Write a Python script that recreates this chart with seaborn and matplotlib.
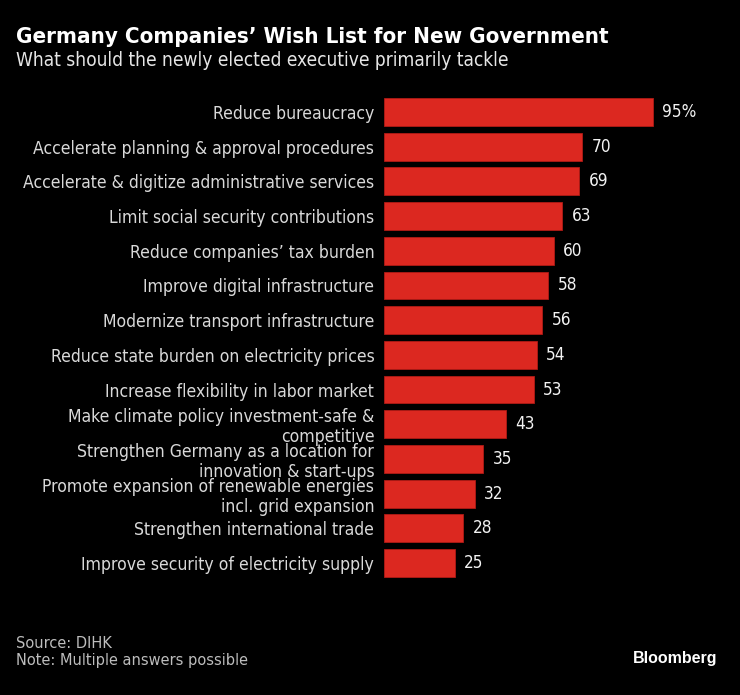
import matplotlib
matplotlib.use("Agg")
import matplotlib.pyplot as plt
import seaborn as sns
import pandas as pd

categories = [
    "Reduce bureaucracy",
    "Accelerate planning & approval procedures",
    "Accelerate & digitize administrative services",
    "Limit social security contributions",
    "Reduce companies\u2019 tax burden",
    "Improve digital infrastructure",
    "Modernize transport infrastructure",
    "Reduce state burden on electricity prices",
    "Increase flexibility in labor market",
    "Make climate policy investment-safe &\ncompetitive",
    "Strengthen Germany as a location for\ninnovation & start-ups",
    "Promote expansion of renewable energies\nincl. grid expansion",
    "Strengthen international trade",
    "Improve security of electricity supply",
]
values = [95, 70, 69, 63, 60, 58, 56, 54, 53, 43, 35, 32, 28, 25]
value_labels = ["95%", "70", "69", "63", "60", "58", "56", "54", "53", "43", "35", "32", "28", "25"]

df = pd.DataFrame({"category": categories, "value": values})

sns.set_theme(style="dark")
plt.rcParams["font.family"] = ["DejaVu Sans"]
plt.rcParams["font.stretch"] = "condensed"

BG = "#000000"
RED = "#dc2820"
TXT = "#d9d9d9"

fig = plt.figure(figsize=(7.4, 6.95), dpi=100, facecolor=BG)
ax = fig.add_axes([384 / 740, 1 - 580.4 / 695, 283 / 740, (580.4 - 94.6) / 695])
ax.set_facecolor(BG)

sns.barplot(data=df, x="value", y="category", color=RED, width=0.8,
            saturation=1, ax=ax, edgecolor="#b01a15", linewidth=0.6)

ax.set_xlim(0, 100)
ax.set_xlabel("")
ax.set_ylabel("")
ax.set_xticks([])
for s in ax.spines.values():
    s.set_visible(False)
ax.grid(False)
ax.tick_params(axis="y", length=0, pad=7, labelsize=12.6, labelcolor=TXT)
for lab in ax.get_yticklabels():
    lab.set_linespacing(1.15)

for i, (v, t) in enumerate(zip(values, value_labels)):
    ax.text(v + 3.3, i, t, va="center", ha="left", color="#f2f2f2",
            fontsize=12.3, clip_on=False)

fig.text(16 / 740, 1 - 37 / 695, "Germany Companies\u2019 Wish List for New Government",
         color="white", fontsize=16.0, fontweight="bold", va="center", ha="left")
fig.text(16 / 740, 1 - 61 / 695, "What should the newly elected executive primarily tackle",
         color="#e6e6e6", fontsize=13.7, va="center", ha="left")
fig.text(16 / 740, 1 - 643 / 695, "Source: DIHK", color="#bdbdbd", fontsize=11.7,
         va="center", ha="left")
fig.text(16 / 740, 1 - 661 / 695, "Note: Multiple answers possible", color="#bdbdbd",
         fontsize=11.7, va="center", ha="left")
fig.text(717 / 740, 1 - 659 / 695, "Bloomberg", color="white", fontsize=11.5,
         fontweight="bold", va="center", ha="right",
         family=["Liberation Sans", "DejaVu Sans"], fontstretch="normal")

fig.savefig("out.png", dpi=100, facecolor=BG)
